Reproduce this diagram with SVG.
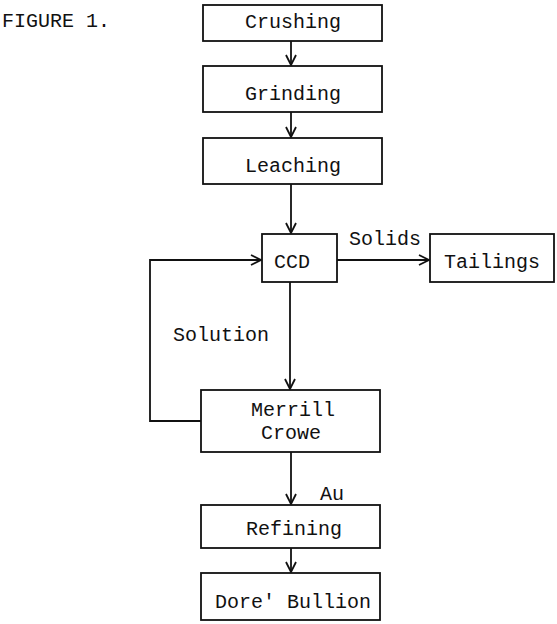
<svg xmlns="http://www.w3.org/2000/svg" width="557" height="624" viewBox="0 0 557 624">
<style>
.box{fill:#fff;stroke:#111;stroke-width:1.8}
.t{font-family:"Liberation Mono","Courier New",monospace;font-size:20px;fill:#111}
.c{text-anchor:middle}
.ln{fill:none;stroke:#111;stroke-width:1.8}
</style>
<defs>
<marker id="ah" viewBox="0 0 12 12" refX="11" refY="6" markerWidth="12" markerHeight="12" markerUnits="userSpaceOnUse" orient="auto">
<polyline points="1,1 11,6 1,11" fill="none" stroke="#111" stroke-width="1.8"/>
</marker>
</defs>
<rect width="557" height="624" fill="#fff"/>
<text class="t" x="2" y="27">FIGURE 1.</text>
<g id="connectors">
<line class="ln" x1="291" y1="41" x2="291" y2="65" marker-end="url(#ah)"/>
<line class="ln" x1="291" y1="112" x2="291" y2="137" marker-end="url(#ah)"/>
<line class="ln" x1="291" y1="184" x2="291" y2="233" marker-end="url(#ah)"/>
<line class="ln" x1="337" y1="260" x2="429" y2="260" marker-end="url(#ah)"/>
<line class="ln" x1="290" y1="282" x2="290" y2="389" marker-end="url(#ah)"/>
<polyline class="ln" points="201,421 150,421 150,260 261,260" marker-end="url(#ah)"/>
<line class="ln" x1="291" y1="452" x2="291" y2="504" marker-end="url(#ah)"/>
<line class="ln" x1="291" y1="548" x2="291" y2="572" marker-end="url(#ah)"/>
<text class="t" x="349" y="245">Solids</text>
<text class="t" x="173" y="341">Solution</text>
<text class="t" x="320" y="500">Au</text>
</g>
<g id="crushing"><rect class="box" x="203" y="5" width="179" height="36"/><text class="t c" x="293" y="28">Crushing</text></g>
<g id="grinding"><rect class="box" x="203" y="66" width="179" height="46"/><text class="t c" x="293" y="100">Grinding</text></g>
<g id="leaching"><rect class="box" x="203" y="138" width="179" height="46"/><text class="t c" x="293" y="172">Leaching</text></g>
<g id="ccd"><rect class="box" x="262" y="234" width="75" height="48"/><text class="t" x="274" y="268">CCD</text></g>
<g id="tailings"><rect class="box" x="430" y="234" width="124" height="48"/><text class="t c" x="492" y="268">Tailings</text></g>
<g id="merrill"><rect class="box" x="201" y="390" width="179" height="62"/><text class="t c" x="293" y="416">Merrill</text><text class="t c" x="291" y="439">Crowe</text></g>
<g id="refining"><rect class="box" x="201" y="505" width="179" height="43"/><text class="t c" x="294" y="535">Refining</text></g>
<g id="dore"><rect class="box" x="201" y="573" width="179" height="47"/><text class="t c" x="293" y="608">Dore' Bullion</text></g>
</svg>
